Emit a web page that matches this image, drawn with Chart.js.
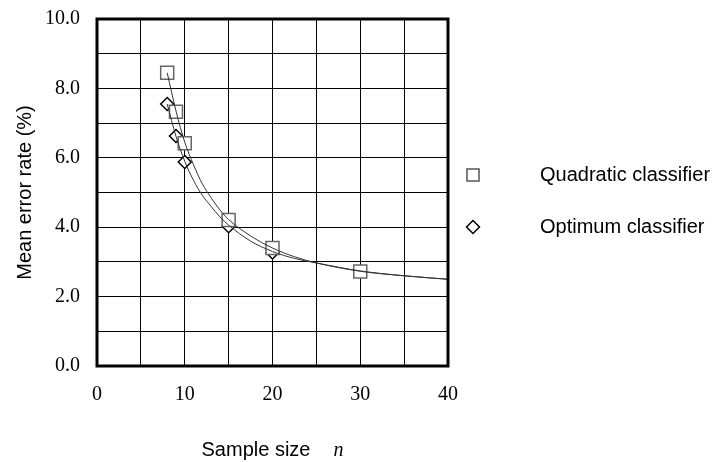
<!DOCTYPE html>
<html>
<head>
<meta charset="utf-8">
<title>Mean error rate vs sample size</title>
<script src="https://cdn.jsdelivr.net/npm/chart.js@4.4.1/dist/chart.umd.min.js"></script>
<style>
  html, body { margin: 0; padding: 0; background: #fff; }
  #chart { display: block; }
</style>
</head>
<body>
<canvas id="chart" width="720" height="462"></canvas>
<script>
// measured points
const quadN = [8, 9, 10, 15, 20, 30];
const quadErr = [8.45, 7.33, 6.42, 4.21, 3.40, 2.72];
const optN = [8, 9, 10, 15, 20];
const optErr = [7.55, 6.63, 5.88, 4.03, 3.27];

// fitted curves
const curveN = [8, 9, 10, 11, 12, 13, 14, 15, 17.5, 20, 22.5, 25, 30, 35, 40];
const quadCurve = [8.45, 7.35, 6.45, 5.8, 5.25, 4.85, 4.5, 4.22, 3.75, 3.4, 3.15, 2.97, 2.73, 2.6, 2.5];
const optCurve = [7.55, 6.62, 5.9, 5.35, 4.92, 4.6, 4.3, 4.06, 3.6, 3.3, 3.1, 2.97, 2.74, 2.6, 2.5];

const xTicks = [0, 10, 20, 30, 40];
const yTicks = [0, 2, 4, 6, 8, 10];

const legendLabels = ["Quadratic classifier", "Optimum classifier"];

const toXY = (xs, ys) => xs.map((x, i) => ({ x: x, y: ys[i] }));

const sansFont = "Liberation Sans, Arial, sans-serif";
const serifFont = "Liberation Serif, Times New Roman, serif";

// frame around plot + legend + x title with italic n
const extras = {
    id: "extras",
    afterDraw(chart) {
        const { ctx, chartArea } = chart;
        const { left, top, right, bottom } = chartArea;
        ctx.save();

        ctx.strokeStyle = "#000";
        ctx.lineWidth = 3;
        ctx.strokeRect(left, top, right - left, bottom - top);

        // legend
        const markers = [
            { style: "rect", radius: 8.5, color: "#555", y: 175 },
            { style: "rectRot", radius: 6.5, color: "#000", y: 227 }
        ];
        markers.forEach((m, i) => {
            ctx.fillStyle = "#fff";
            ctx.strokeStyle = m.color;
            ctx.lineWidth = 1.5;
            Chart.helpers.drawPoint(ctx, { pointStyle: m.style, radius: m.radius, borderWidth: 1.5 }, 473, m.y);
            ctx.fillStyle = "#000";
            ctx.font = "20px " + sansFont;
            ctx.textBaseline = "middle";
            ctx.textAlign = "left";
            ctx.fillText(legendLabels[i], 540, m.y);
        });

        // x axis title
        ctx.textBaseline = "alphabetic";
        ctx.font = "20px " + sansFont;
        const t1 = "Sample size";
        const w1 = ctx.measureText(t1).width;
        ctx.font = "italic 20px " + serifFont;
        const w2 = ctx.measureText("n").width;
        const gap = 23;
        const x0 = (left + right) / 2 - (w1 + gap + w2) / 2;
        ctx.font = "20px " + sansFont;
        ctx.fillText(t1, x0, 456);
        ctx.font = "italic 20px " + serifFont;
        ctx.fillText("n", x0 + w1 + gap, 456);

        ctx.restore();
    }
};

new Chart(document.getElementById("chart").getContext("2d"), {
    type: "scatter",
    data: {
        datasets: [
            {
                label: "Quadratic curve",
                type: "line",
                data: toXY(curveN, quadCurve),
                borderColor: "#333",
                borderWidth: 1,
                pointRadius: 0,
                cubicInterpolationMode: "monotone",
                fill: false,
                order: 0
            },
            {
                label: "Optimum curve",
                type: "line",
                data: toXY(curveN, optCurve),
                borderColor: "#333",
                borderWidth: 1,
                pointRadius: 0,
                cubicInterpolationMode: "monotone",
                fill: false,
                order: 0
            },
            {
                label: legendLabels[0],
                data: toXY(quadN, quadErr),
                pointStyle: "rect",
                pointRadius: 9.2,
                backgroundColor: "#fff",
                borderColor: "#666",
                borderWidth: 1.5,
                order: 1
            },
            {
                label: legendLabels[1],
                data: toXY(optN, optErr),
                pointStyle: "rectRot",
                pointRadius: 6.5,
                backgroundColor: "#fff",
                borderColor: "#000",
                borderWidth: 1.5,
                order: 2
            }
        ]
    },
    options: {
        responsive: false,
        animation: false,
        devicePixelRatio: 1,
        layout: { padding: { left: 0, top: 19, right: 272, bottom: 0 } },
        plugins: {
            legend: { display: false },
            tooltip: { enabled: false }
        },
        scales: {
            x: {
                type: "linear",
                min: 0,
                max: 40,
                ticks: {
                    stepSize: 5,
                    autoSkip: false,
                    maxRotation: 0,
                    padding: 17,
                    color: "#000",
                    font: { family: serifFont, size: 20 },
                    callback: v => xTicks.includes(v) ? String(v) : ""
                },
                grid: { color: "#000", lineWidth: 1, drawTicks: false },
                border: { display: false },
                afterFit: scale => {
                    scale.height = 96;
                    scale.paddingLeft = 0;
                    scale.paddingRight = 0;
                }
            },
            y: {
                min: 0,
                max: 10,
                ticks: {
                    stepSize: 1,
                    autoSkip: false,
                    padding: 17,
                    color: "#000",
                    font: { family: serifFont, size: 20 },
                    callback: v => yTicks.includes(v) ? v.toFixed(1) : ""
                },
                grid: { color: "#000", lineWidth: 1, drawTicks: false },
                border: { display: false },
                title: {
                    display: true,
                    text: "Mean error rate (%)",
                    color: "#000",
                    font: { family: sansFont, size: 20 },
                    padding: { top: 13, bottom: 0 }
                },
                afterFit: scale => {
                    scale.width = 97;
                    scale.paddingTop = 0;
                    scale.paddingBottom = 0;
                }
            }
        }
    },
    plugins: [extras]
});
</script>
</body>
</html>
